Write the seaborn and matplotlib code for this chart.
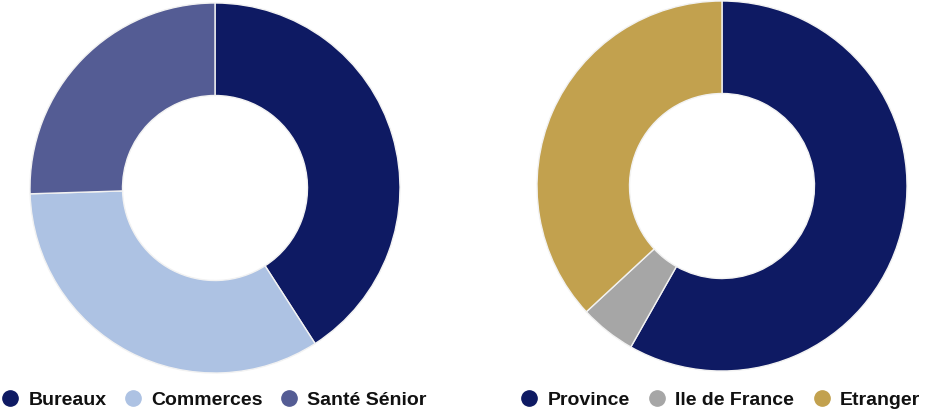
import matplotlib
matplotlib.use("Agg")
import matplotlib.pyplot as plt
import seaborn as sns
from matplotlib.lines import Line2D

# =============================================================================
# DATA
# =============================================================================
left_labels = ["Bureaux", "Commerces", "Santé Sénior"]
left_values = [40.9, 33.6, 25.5]
left_colors = ["#0e1a63", "#adc2e3", "#545c94"]

right_labels = ["Province", "Ile de France", "Etranger"]
right_values = [58.2, 4.9, 36.9]
right_colors = ["#0e1a63", "#a6a6a6", "#c2a14e"]

# =============================================================================
# STYLE
# =============================================================================
sns.set_theme(style="white")
plt.rcParams['font.family'] = ['Liberation Sans', 'DejaVu Sans']

fig = plt.figure(figsize=(9.31, 4.15), dpi=100)

W, H = 931, 415


def donut(cx, cy, r, labels, values, colors):
    ax = fig.add_axes([(cx - r) / W, (H - cy - r) / H, 2 * r / W, 2 * r / H])
    ax.pie(values, colors=sns.color_palette(colors), startangle=90, counterclock=False,
           radius=1.0, wedgeprops=dict(width=0.5, edgecolor="#f2f2f2", linewidth=1.0))
    ax.set_xlim(-1, 1)
    ax.set_ylim(-1, 1)
    ax.set_aspect("equal")
    ax.axis("off")
    return ax


donut(215, 188, 185, left_labels, left_values, left_colors)
donut(722, 186, 185, right_labels, right_values, right_colors)


def legend(x0, labels, colors, spacing):
    handles = [Line2D([0], [0], marker='o', color='w', markerfacecolor=c,
                      markeredgecolor=c, markersize=11, label=l)
               for l, c in zip(labels, colors)]
    fig.legend(handles=handles, loc='center left', bbox_to_anchor=(x0 / W, 1 - 400 / H),
               ncol=3, frameon=False, handlelength=0.75, handletextpad=0.55,
               columnspacing=spacing, borderaxespad=0, borderpad=0,
               prop=dict(size=14, weight='bold'), labelcolor='#111111')


legend(3, left_labels, left_colors, 1.0)
legend(522, right_labels, right_colors, 1.05)

plt.savefig("out.png", dpi=100)
